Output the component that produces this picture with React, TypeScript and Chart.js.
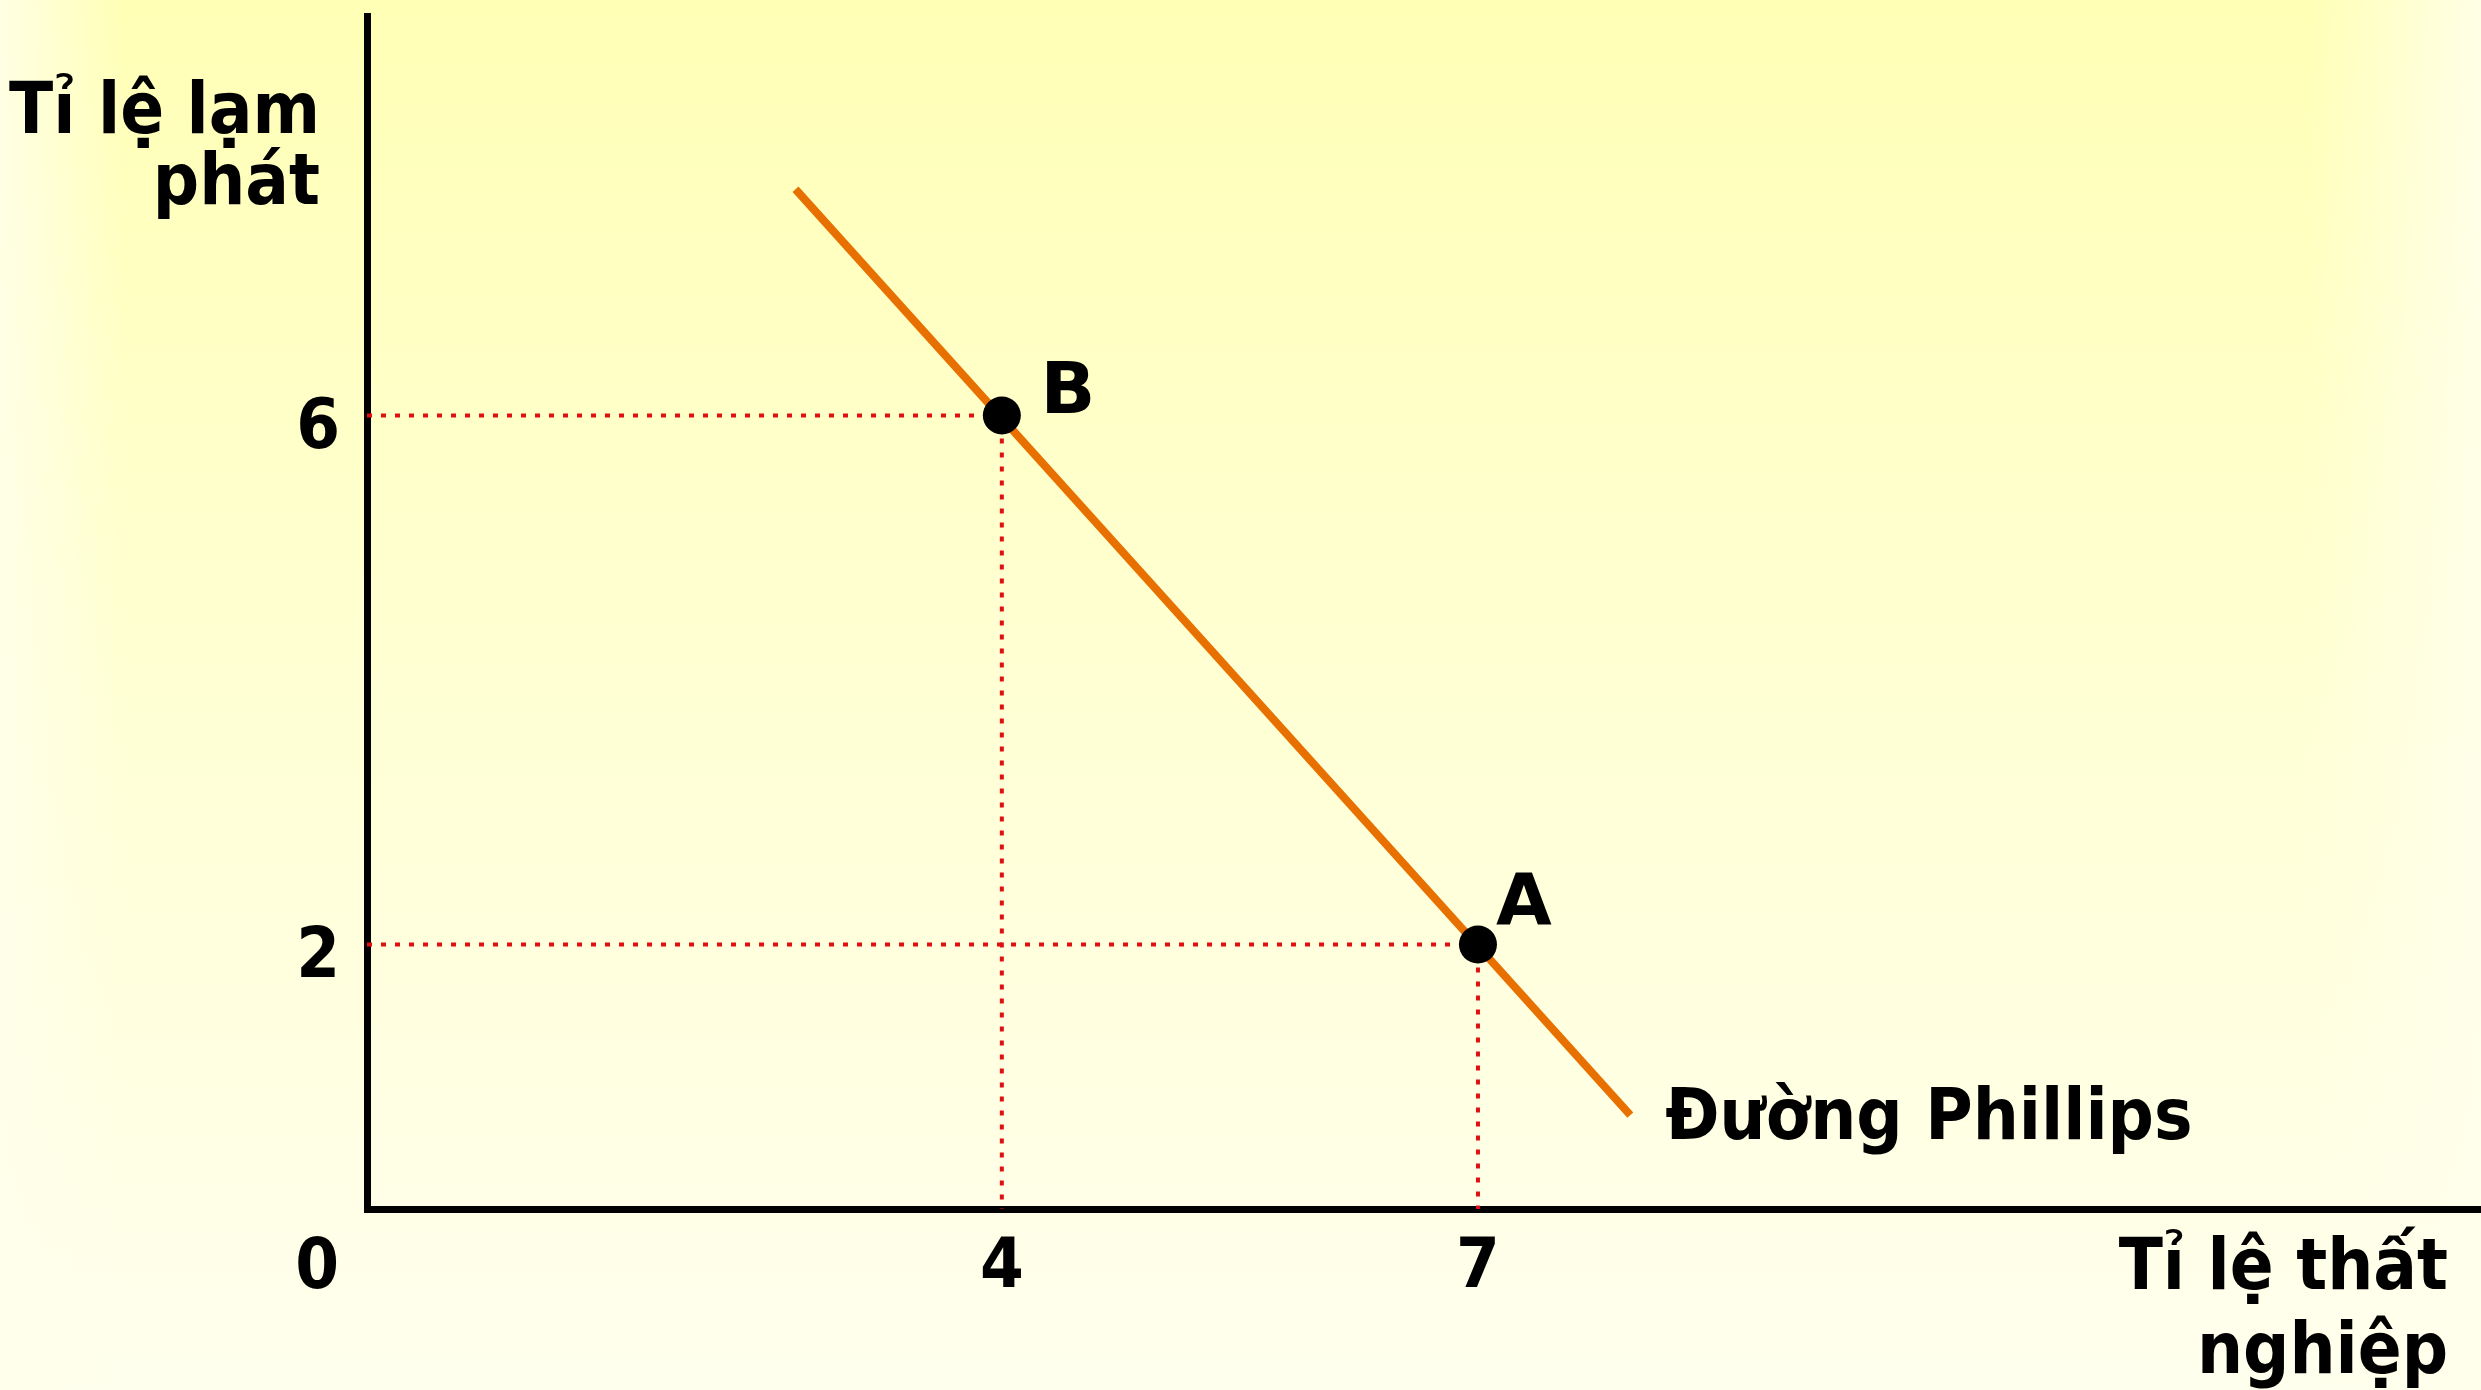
import React, { useEffect, useRef } from "react";
import { Chart, registerables } from "chart.js";

Chart.register(...registerables);

// ---- data ----
const curveX = [2.7, 7.96];
const curveY = [7.71, 0.71];
const pointNames = ["A", "B"];
const pointX = [7, 4];
const pointY = [2, 6];
const xTicks = [4, 7];
const yTicks = [2, 6];
const xMax = 13.32;
const yMax = 9.02;
const xTitle = ["Tỉ lệ thất", "nghiệp"];
const yTitle = ["Tỉ lệ lạm", "phát"];
const curveLabel = "Đường Phillips";
const originLabel = "0";

// ---- styles ----
const W = 2481;
const H = 1390;
const COND = '"DejaVu Sans Condensed", "DejaVu Sans", sans-serif';
const WIDE = '"DejaVu Sans", sans-serif';
const pointLabelOffsets = [
  { dx: 46, dy: -20 },
  { dx: 66, dy: -2 },
];

const bgPlugin = {
  id: "bg",
  beforeDraw(chart: any) {
    const { ctx, width, height } = chart;
    ctx.save();
    const g = ctx.createLinearGradient(0, 0, 0, height);
    g.addColorStop(0, "#FFFFB6");
    g.addColorStop(0.5, "#FFFFD4");
    g.addColorStop(1, "#FFFFEE");
    ctx.fillStyle = g;
    ctx.fillRect(0, 0, width, height);
    const h = ctx.createLinearGradient(0, 0, width, 0);
    h.addColorStop(0, "rgba(255,255,235,0.85)");
    h.addColorStop(0.05, "rgba(255,255,235,0)");
    h.addColorStop(0.93, "rgba(255,255,235,0)");
    h.addColorStop(1, "rgba(255,255,235,0.9)");
    ctx.fillStyle = h;
    ctx.fillRect(0, 0, width, height);
    ctx.restore();
  },
};

const labelPlugin = {
  id: "labels",
  afterDraw(chart: any) {
    const { ctx } = chart;
    const xs = chart.scales.x;
    const ys = chart.scales.y;
    ctx.save();
    ctx.fillStyle = "#000";
    ctx.textBaseline = "alphabetic";

    // point labels
    ctx.font = `bold 72px ${WIDE}`;
    ctx.textAlign = "center";
    pointNames.forEach((n, i) => {
      const px = xs.getPixelForValue(pointX[i]);
      const py = ys.getPixelForValue(pointY[i]);
      ctx.fillText(n, px + pointLabelOffsets[i].dx, py + pointLabelOffsets[i].dy);
    });

    // curve label
    ctx.font = `bold 72px ${COND}`;
    ctx.textAlign = "left";
    const ex = xs.getPixelForValue(curveX[1]);
    const ey = ys.getPixelForValue(curveY[1]);
    ctx.fillText(curveLabel, ex + 35, ey + 24);

    // y title
    ctx.textAlign = "right";
    const ox = xs.getPixelForValue(0);
    ctx.fillText(yTitle[0], ox - 47, 133);
    ctx.fillText(yTitle[1], ox - 47, 204);

    // x title
    ctx.fillText(xTitle[0], W - 33, 1289);
    ctx.fillText(xTitle[1], W - 33, 1373);

    // origin
    ctx.font = `bold 70px ${COND}`;
    ctx.textBaseline = "middle";
    ctx.fillText(originLabel, ox - 28, 1270);
    ctx.restore();
  },
};

export default function App() {
  const ref = useRef<HTMLCanvasElement>(null);
  useEffect(() => {
    document.body.style.margin = "0";
    document.body.style.overflow = "hidden";
    const guides = pointX.map((x, i) => ({
      type: "scatter" as const,
      data: [
        { x: 0, y: pointY[i] },
        { x, y: pointY[i] },
        { x, y: 0 },
      ],
      showLine: true,
      borderColor: "#E01010",
      borderWidth: 4,
      borderDash: [5, 9],
      pointRadius: 0,
      order: 3,
      clip: false as any,
    }));
    const chart = new Chart(ref.current!, {
      type: "scatter",
      data: {
        datasets: [
          {
            data: pointX.map((x, i) => ({ x, y: pointY[i] })),
            pointRadius: 19,
            pointBackgroundColor: "#000",
            pointBorderWidth: 0,
            showLine: false,
            order: 0,
          },
          {
            data: curveX.map((x, i) => ({ x, y: curveY[i] })),
            showLine: true,
            borderColor: "#E87000",
            borderWidth: 8,
            pointRadius: 0,
            order: 1,
          },
          ...guides,
        ] as any,
      },
      options: {
        animation: false,
        responsive: false,
        events: [],
        layout: { autoPadding: false, padding: { top: 16, right: 0, left: 0, bottom: 0 } },
        plugins: { legend: { display: false }, tooltip: { enabled: false } },
        scales: {
          x: {
            type: "linear",
            min: 0,
            max: xMax,
            grid: { display: false, drawTicks: false },
            border: { display: true, color: "#000", width: 7 },
            ticks: {
              color: "#000",
              font: { family: COND, size: 70, weight: "bold" },
              padding: 18,
            },
            afterBuildTicks: (s: any) => {
              s.ticks = xTicks.map((v) => ({ value: v }));
            },
            afterFit: (s: any) => {
              s.height = 181;
              s.paddingLeft = 0;
              s.paddingRight = 0;
              s.paddingTop = 0;
              s.paddingBottom = 0;
            },
          },
          y: {
            type: "linear",
            min: 0,
            max: yMax,
            grid: { display: false, drawTicks: false },
            border: { display: true, color: "#000", width: 7 },
            ticks: {
              color: "#000",
              font: { family: COND, size: 70, weight: "bold" },
              padding: 27,
              labelOffset: 14,
            },
            afterBuildTicks: (s: any) => {
              s.ticks = yTicks.map((v) => ({ value: v }));
            },
            afterFit: (s: any) => {
              s.width = 367;
              s.paddingLeft = 0;
              s.paddingRight = 0;
              s.paddingTop = 0;
              s.paddingBottom = 0;
            },
          },
        },
      } as any,
      plugins: [bgPlugin, labelPlugin],
    });
    return () => chart.destroy();
  }, []);
  return <canvas ref={ref} width={W} height={H} style={{ display: "block" }} />;
}
